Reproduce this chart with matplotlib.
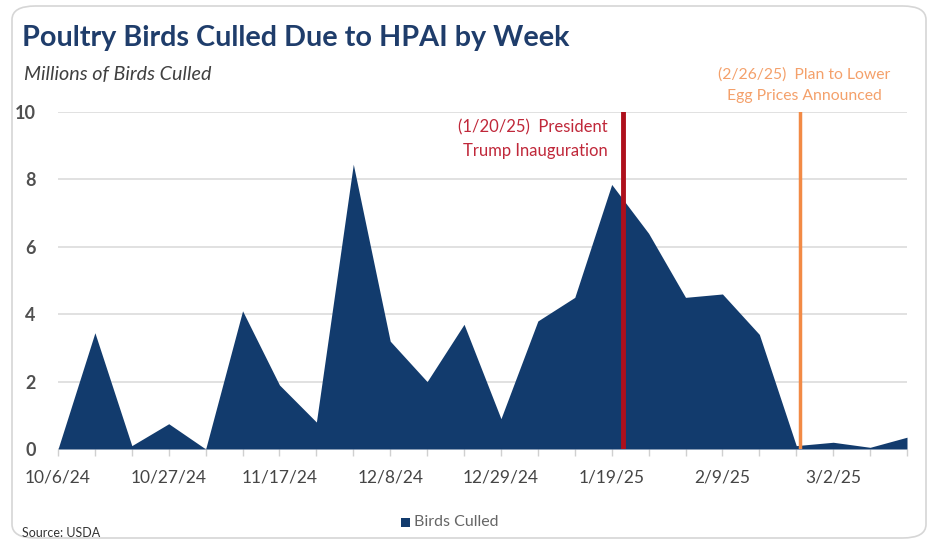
import numpy as np
import matplotlib.pyplot as plt
from matplotlib.patches import FancyBboxPatch, Rectangle

# weekly birds culled, millions
weeks = ["10/6/24", "10/13/24", "10/20/24", "10/27/24", "11/3/24", "11/10/24",
         "11/17/24", "11/24/24", "12/1/24", "12/8/24", "12/15/24", "12/22/24",
         "12/29/24", "1/5/25", "1/12/25", "1/19/25", "1/26/25", "2/2/25",
         "2/9/25", "2/16/25", "2/23/25", "3/2/25", "3/9/25", "3/16/25"]
culled = [0.0, 3.45, 0.1, 0.75, 0.0, 4.1, 1.9, 0.8, 8.45, 3.2, 2.0, 3.7,
          0.9, 3.8, 4.5, 7.85, 6.4, 4.5, 4.6, 3.4, 0.1, 0.2, 0.05, 0.35]
# event markers (position in weeks from 10/6/24)
event_pos = [15.3, 20.1]
event_text = ["(1/20/25)  President\nTrump Inauguration",
              "(2/26/25)  Plan to Lower\nEgg Prices Announced"]
event_colors = ["#AE101C", "#F28A45"]

plt.rcParams['font.family'] = ['Lato', 'DejaVu Sans']
navy = "#123B6D"

fig = plt.figure(figsize=(9.39, 5.46), dpi=100)
fig.patches.append(FancyBboxPatch((12 / 939, 8 / 546), 914 / 939, 532 / 546,
                                  boxstyle="round,pad=0,rounding_size=0.025",
                                  transform=fig.transFigure, fc="none",
                                  ec="#D6D6D6", lw=1.2, zorder=-1))

ax = fig.add_axes([58 / 939, 1 - 449 / 546, 849 / 939, 337 / 546])
ax.patch.set_alpha(0)
x = np.arange(len(culled))
ax.fill_between(x, culled, 0, color=navy, lw=0, zorder=2)
ax.set_xlim(0, len(culled) - 1)
ax.set_ylim(0, 10)
ax.set_yticks(range(0, 11, 2))
ax.grid(axis="y", color="#DCDCDC", lw=1.2, zorder=0)
for s in ax.spines.values():
    s.set_visible(False)
ax.set_xticks(x[::3])
ax.set_xticklabels(weeks[::3])
ax.set_xticks(x, minor=True)
ax.tick_params(axis="x", which="both", length=5, color="#D0D0D0", width=1,
               direction="out", pad=10, labelsize=12.5, labelcolor="#454545")
ax.tick_params(axis="y", length=0, pad=16, labelsize=13, labelcolor="#505050")
for lab in ax.get_yticklabels():
    lab.set_fontweight("bold")
ax.axhline(0, color="#D6DCE4", lw=1, zorder=1)

for pos, col in zip(event_pos, event_colors):
    ax.axvline(pos, ymin=0, ymax=1, color=col, lw=3.5 if col == "#AE101C" else 2.5,
               zorder=3)
ax.text(event_pos[0] - 0.4, 9.2, event_text[0], ha="right", va="center",
        color="#C0283A", fontsize=12, linespacing=1.55, zorder=4)
fig.text(804 / 939, 1 - 85 / 546, event_text[1], ha="center", va="center",
         color="#F4A06A", fontsize=11.3, linespacing=1.7)

fig.text(22 / 939, 1 - 38 / 546, "Poultry Birds Culled Due to HPAI by Week",
         fontsize=20.7, fontweight="bold", color="#1F3D6B", va="center")
fig.text(24 / 939, 1 - 74 / 546, "Millions of Birds Culled", fontsize=14.2,
         style="italic", color="#404040", va="center")
fig.text(22 / 939, 1 - 533 / 546, "Source: USDA", fontsize=9,
         color="#333333", va="center")
fig.patches.append(Rectangle((401 / 939, 1 - 527 / 546), 9 / 939, 9 / 546,
                             transform=fig.transFigure, fc=navy, ec="none"))
fig.text(414 / 939, 1 - 522 / 546, "Birds Culled", fontsize=11.5,
         color="#666666", va="center")

fig.savefig("out.png", dpi=100)
